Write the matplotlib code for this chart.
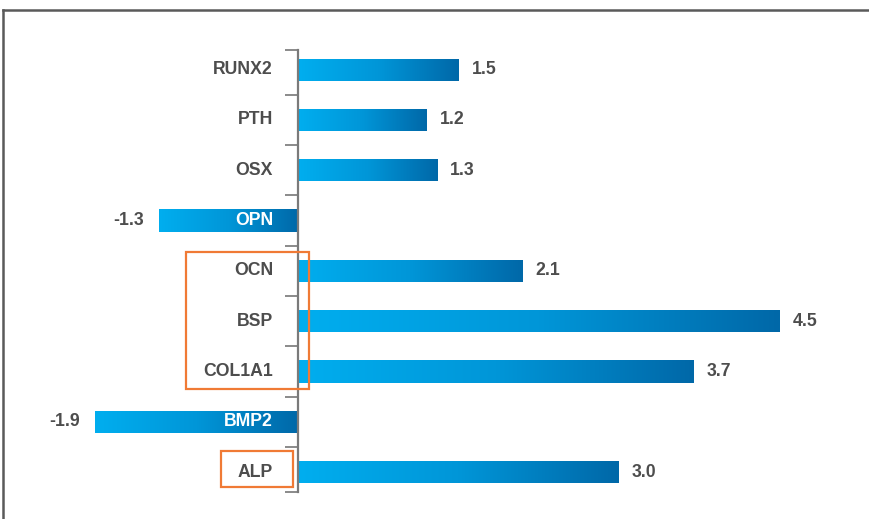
import numpy as np
import matplotlib
matplotlib.use("Agg")
import matplotlib.pyplot as plt
from matplotlib.colors import LinearSegmentedColormap
from matplotlib.patches import Rectangle
from matplotlib.lines import Line2D

# ---- data ----
genes = ["RUNX2", "PTH", "OSX", "OPN", "OCN", "BSP", "COL1A1", "BMP2", "ALP"]
values = [1.5, 1.2, 1.3, -1.3, 2.1, 4.5, 3.7, -1.9, 3.0]
highlight_groups = [["OCN", "BSP", "COL1A1"], ["ALP"]]

# ---- style ----
W, H, DPI = 869, 519, 100
PX = 107.0  # pixels per data unit
zero_px = 298
text_dark = "#4d4d4d"
cmap = LinearSegmentedColormap.from_list("bluegrad", ["#00AEEF", "#0096D8", "#0068A8"])
orange = "#F07A35"

plt.rcParams['font.family'] = ['Liberation Sans', 'DejaVu Sans']
FS = 12.7

fig = plt.figure(figsize=(W / DPI, H / DPI), dpi=DPI)
ax_top_px, ax_bot_px = 50, 491.7
ax = fig.add_axes([0, (H - ax_bot_px) / H, 1, (ax_bot_px - ax_top_px) / H])

pad = 0.39
n = len(genes)
ypos = np.arange(n)
xlim = (-zero_px / PX, (W - zero_px) / PX)
ylim = (n - 1 + pad, -pad)

bar_h = 0.44
bars = ax.barh(ypos, values, height=bar_h, color="none", edgecolor="none", zorder=2)
grad = np.linspace(0, 1, 256).reshape(1, -1)
for b in bars:
    x0 = b.get_x()
    x1 = x0 + b.get_width()
    y0 = b.get_y()
    y1 = y0 + b.get_height()
    im = ax.imshow(grad, cmap=cmap, extent=[min(x0, x1), max(x0, x1), y1, y0],
                   aspect="auto", zorder=2, interpolation="bicubic")
    im.set_clip_path(b)

ax.set_xlim(*xlim)
ax.set_ylim(*ylim)

# axis styling
for s in ["top", "right", "bottom"]:
    ax.spines[s].set_visible(False)
ax.spines["left"].set_position(("data", 0))
ax.spines["left"].set_color("#7a7a7a")
ax.spines["left"].set_linewidth(1.6)
ax.spines["left"].set_zorder(3)
ax.xaxis.set_visible(False)
tick_pos = [-pad] + list(np.arange(n - 1) + 0.5) + [n - 1 + pad]
ax.set_yticks(tick_pos)
ax.set_yticklabels([])
ax.tick_params(axis="y", direction="out", length=9.5, width=1.4, color="#8a8a8a")

# labels
lab_off = 25 / PX
for y, g, v in zip(ypos, genes, values):
    col = "white" if v < 0 else text_dark
    ax.text(-lab_off, y, g, ha="right", va="center", fontsize=FS, fontweight="bold",
            color=col, zorder=4)
    if v >= 0:
        ax.text(v + 13 / PX, y, f"{v:.1f}", ha="left", va="center", fontsize=FS,
                fontweight="bold", color=text_dark, zorder=4)
    else:
        ax.text(v - 15 / PX, y, f"{v:.1f}", ha="right", va="center", fontsize=FS,
                fontweight="bold", color=text_dark, zorder=4)

# highlight boxes
boxes = [
    dict(x0=(186 - zero_px) / PX, x1=(309 - zero_px) / PX, ty=-0.37, by=0.35),
    dict(x0=(221 - zero_px) / PX, x1=(293 - zero_px) / PX, ty=-0.42, by=0.30),
]
for grp, bx in zip(highlight_groups, boxes):
    idx = [genes.index(g) for g in grp]
    top = min(idx) + bx["ty"]
    bot = max(idx) + bx["by"]
    ax.add_patch(Rectangle((bx["x0"], top), bx["x1"] - bx["x0"], bot - top,
                           fill=False, edgecolor=orange, linewidth=1.6, zorder=5,
                           clip_on=False))

# outer frame (left and top)
fx = 3 / W
fy = 1 - 9.5 / H
fig.add_artist(Line2D([fx, fx], [0, fy], transform=fig.transFigure, color="#5a5a5a", lw=1.8))
fig.add_artist(Line2D([fx, 1], [fy, fy], transform=fig.transFigure, color="#5a5a5a", lw=1.8))

fig.savefig("out.png", dpi=DPI, facecolor="white")
